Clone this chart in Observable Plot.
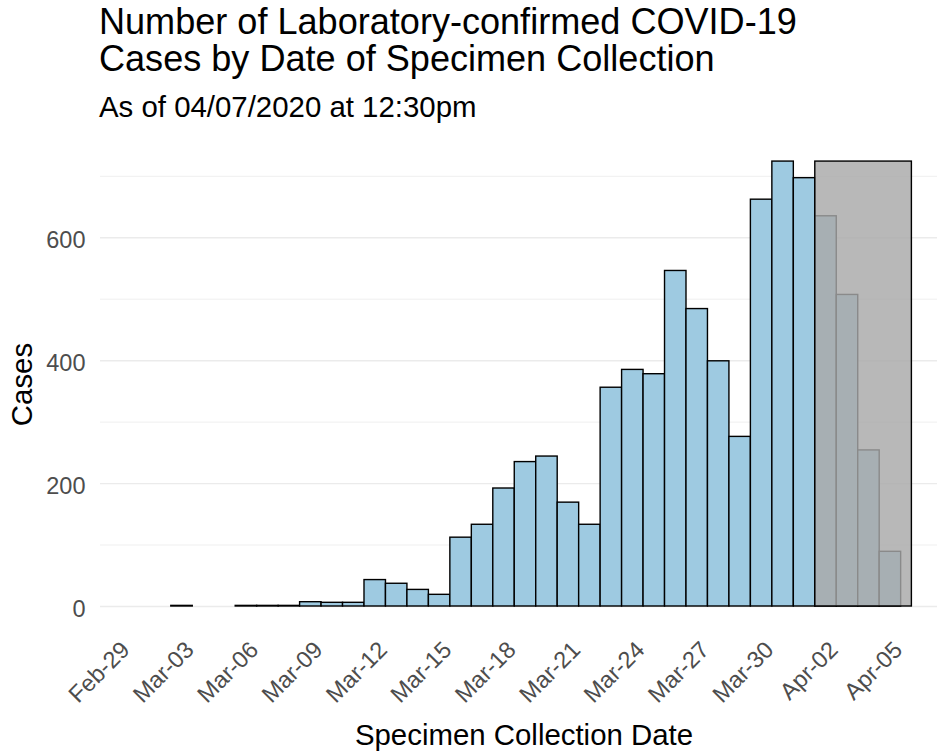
<!DOCTYPE html>
<html><head><meta charset="utf-8">
<script src="https://cdn.jsdelivr.net/npm/d3@7"></script>
<script src="https://cdn.jsdelivr.net/npm/@observablehq/plot@0.6"></script>
<style>
body{margin:0;background:#fff;font-family:"Liberation Sans",Arial,sans-serif;}
#wrap{position:relative;width:937px;height:755px;overflow:hidden;}
.t{position:absolute;left:99px;white-space:nowrap;color:#000;}
.title{font-size:36.1px;line-height:37px;height:37px;}
#t1{top:3px;}
#t2{top:40px;}
#sub{top:92px;font-size:29.4px;line-height:30px;}
#chart{position:absolute;top:130px;left:0;}
</style></head><body>
<div id="wrap">
<div class="t title" id="t1">Number of Laboratory-confirmed COVID-19</div>
<div class="t title" id="t2">Cases by Date of Specimen Collection</div>
<div class="t" id="sub">As of 04/07/2020 at 12:30pm</div>
<div id="chart"></div>
</div>
<script>
const dates = ["2020-03-02","2020-03-05","2020-03-06","2020-03-07","2020-03-08","2020-03-09","2020-03-10",
  "2020-03-11","2020-03-12","2020-03-13","2020-03-14","2020-03-15","2020-03-16","2020-03-17","2020-03-18",
  "2020-03-19","2020-03-20","2020-03-21","2020-03-22","2020-03-23","2020-03-24","2020-03-25","2020-03-26",
  "2020-03-27","2020-03-28","2020-03-29","2020-03-30","2020-03-31","2020-04-01","2020-04-02","2020-04-03","2020-04-04"];
const cases = [1,1,1,1,7,6,6,
  43,37,27,19,112,133,192,235,
  244,169,133,356,385,378,546,484,
  399,276,662,724,697,635,507,254,89];
const tickDates = ["2020-02-29","2020-03-03","2020-03-06","2020-03-09","2020-03-12","2020-03-15","2020-03-18",
  "2020-03-21","2020-03-24","2020-03-27","2020-03-30","2020-04-02","2020-04-05"];
const yMajor = [0,200,400,600];
const yMinor = [100,300,500,700];
// incomplete-data shading: from the middle of Mar-31/Apr-01 to Apr-05
const shadeStart = "2020-03-31T12:00:00Z";
const shadeEnd = "2020-04-05";

const DAY = 864e5;
const parse = s => new Date(s.length > 10 ? s : s + "T00:00:00Z");
const data = dates.map((d, i) => ({date: parse(d), cases: cases[i]}));
const ticks = tickDates.map(parse);
const maxCases = d3.max(cases);
const shade = [{x1: parse(shadeStart), x2: parse(shadeEnd), y1: 0, y2: maxCases}];
const fmt = d3.utcFormat("%b-%d");

const chart = Plot.plot({
  width: 937, height: 625,
  marginLeft: 100, marginRight: 0, marginTop: 10, marginBottom: 127,
  style: {fontFamily: '"Liberation Sans", Arial, sans-serif', background: "white", overflow: "visible"},
  x: {type: "utc", axis: null,
      domain: [new Date(Date.UTC(2020,1,29) - 1.798*DAY), new Date(Date.UTC(2020,3,5) + 1.193*DAY)]},
  y: {domain: [-35.8, 758.3]},
  marks: [
    Plot.ruleY(yMinor, {stroke: "#ebebeb", strokeWidth: 0.8}),
    Plot.ruleY(yMajor, {stroke: "#ebebeb", strokeWidth: 1.4}),
    Plot.rectY(data, {
      x1: d => new Date(+d.date - DAY/2), x2: d => new Date(+d.date + DAY/2), y: "cases",
      fill: "#9ecae1", stroke: "black", strokeWidth: 1.4
    }),
    Plot.rect(shade, {x1: "x1", x2: "x2", y1: "y1", y2: "y2",
      fill: "#a8a8a8", fillOpacity: 0.82, stroke: "black", strokeWidth: 1.4}),
    Plot.axisY(yMajor, {tickSize: 0, tickPadding: 15, fontSize: 23.5, fill: "#4d4d4d", label: null, dy: 3}),
    Plot.text(ticks, {x: d => d, frameAnchor: "bottom", text: d => fmt(d), rotate: -45,
      textAnchor: "end", lineAnchor: "top", dx: -20, dy: 11, fontSize: 23.5, fill: "#4d4d4d"}),
    Plot.text(["Cases"], {frameAnchor: "left", textAnchor: "middle", lineAnchor: "middle",
      dx: -78, rotate: -90, fontSize: 29.4, fill: "black"}),
    Plot.text(["Specimen Collection Date"], {frameAnchor: "bottom", textAnchor: "middle", lineAnchor: "middle",
      dx: 5, dy: 107, fontSize: 29.4, fill: "black"})
  ]
});
document.getElementById("chart").appendChild(chart);
</script>
</body></html>
